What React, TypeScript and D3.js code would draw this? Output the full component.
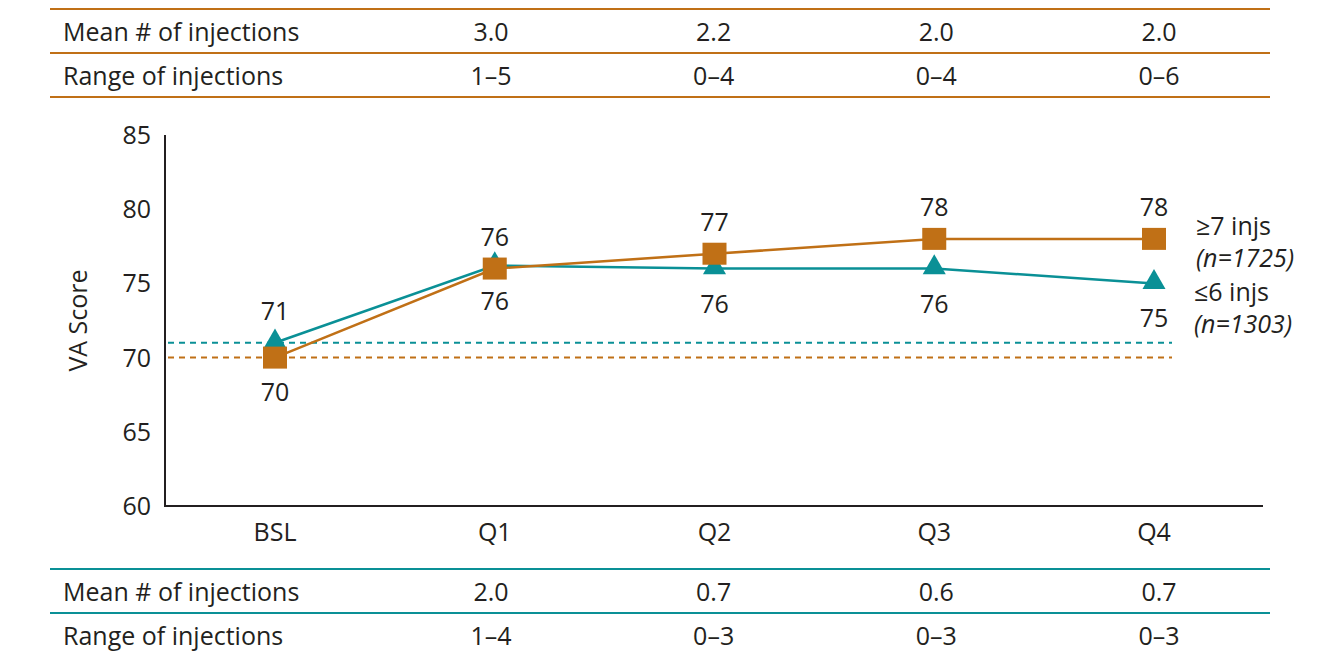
import React from 'react';
import * as d3 from 'd3';

const categories = ['BSL', 'Q1', 'Q2', 'Q3', 'Q4'];
const highValues = [70, 76, 77, 78, 78]; // >=7 injs
const lowValues = [71, 76.2, 76, 76, 75]; // <=6 injs
const highLabels = ['70', '76', '77', '78', '78'];
const lowLabels = ['71', '76', '76', '76', '75'];
const yTicks = [60, 65, 70, 75, 80, 85];

const tableCols = ['Q1', 'Q2', 'Q3', 'Q4'];
const topMean = ['3.0', '2.2', '2.0', '2.0'];
const topRange = ['1–5', '0–4', '0–4', '0–6'];
const bottomMean = ['2.0', '0.7', '0.6', '0.7'];
const bottomRange = ['1–4', '0–3', '0–3', '0–3'];

const ORANGE = '#C07016';
const TEAL = '#0A9096';
const INK = '#231F20';
const FONT = '"Open Sans", "Noto Sans", sans-serif';
const FS = 25;

export default function App() {
  const width = 1344;
  const height = 651;
  const axisLeft = 165;
  const axisRight = 1263;

  const x = d3.scalePoint<string>().domain(categories).range([275, 1154]);
  const y = d3.scaleLinear().domain([60, 85]).range([506, 135]);
  const col = d3.scalePoint<string>().domain(tableCols).range([491, 1159]);

  const line = d3.line<number>()
    .x((_, i) => x(categories[i]) as number)
    .y(d => y(d));

  const triangle = d3.symbol().type(d3.symbolTriangle).size(230)();

  const tableRows = (
    top: number,
    color: string,
    rows: { label: string; vals: string[] }[],
    rowH: number,
  ) => (
    <g>
      {[0, 1, 2].map(i => (
        <line key={i} x1={50} x2={1270} y1={top + i * rowH} y2={top + i * rowH}
          stroke={color} strokeWidth={2} />
      ))}
      {rows.map((r, ri) => (
        <g key={ri}>
          <text x={63} y={top + ri * rowH + 32} fontSize={FS} fill={INK}>{r.label}</text>
          {r.vals.map((v, vi) => (
            <text key={vi} x={col(tableCols[vi]) as number} y={top + ri * rowH + 32}
              fontSize={FS} fill={INK} textAnchor="middle">{v}</text>
          ))}
        </g>
      ))}
    </g>
  );

  return (
    <svg width={width} height={height} style={{ position: 'absolute', left: 0, top: 0, background: '#fff' }}
      fontFamily={FONT}>
      {tableRows(9, ORANGE, [
        { label: 'Mean # of injections', vals: topMean },
        { label: 'Range of injections', vals: topRange },
      ], 44)}
      {tableRows(569, TEAL, [
        { label: 'Mean # of injections', vals: bottomMean },
        { label: 'Range of injections', vals: bottomRange },
      ], 44)}

      {/* axes */}
      <line x1={axisLeft} x2={axisLeft} y1={y(85)} y2={y(60) + 1} stroke={INK} strokeWidth={2} />
      <line x1={axisLeft - 1} x2={axisRight} y1={y(60)} y2={y(60)} stroke={INK} strokeWidth={2} />
      {yTicks.map(t => (
        <text key={t} x={151} y={y(t) + 9} textAnchor="end" fontSize={FS} fill={INK}>{t}</text>
      ))}
      {categories.map(c => (
        <text key={c} x={x(c) as number} y={541} textAnchor="middle" fontSize={FS} fill={INK}
          fontWeight={500}>{c}</text>
      ))}
      <text transform={`translate(87,${(y(85) + y(60)) / 2}) rotate(-90)`} textAnchor="middle"
        fontSize={FS} fill={INK}>VA Score</text>

      {/* baseline reference lines */}
      <line x1={168} x2={1172} y1={y(lowValues[0])} y2={y(lowValues[0])} stroke={TEAL}
        strokeWidth={2} strokeDasharray="6,5" />
      <line x1={168} x2={1172} y1={y(highValues[0])} y2={y(highValues[0])} stroke={ORANGE}
        strokeWidth={2} strokeDasharray="6,5" />

      {/* teal series */}
      <path d={line(lowValues) || ''} fill="none" stroke={TEAL} strokeWidth={2.5} />
      {lowValues.map((v, i) => (
        <path key={i} d={triangle || ''} fill={TEAL}
          transform={`translate(${x(categories[i])},${y(v) - 1})`} />
      ))}

      {/* orange series */}
      <path d={line(highValues) || ''} fill="none" stroke={ORANGE} strokeWidth={2.5} />
      {highValues.map((v, i) => (
        <rect key={i} x={(x(categories[i]) as number) - 12} y={y(v) - 11} width={24} height={22}
          fill={ORANGE} />
      ))}

      {/* value labels */}
      {lowValues.map((v, i) => (
        <text key={i} x={x(categories[i]) as number} textAnchor="middle" fontSize={FS} fill={INK}
          y={i === 0 ? y(v) - 23 : y(v) + 44}>{lowLabels[i]}</text>
      ))}
      {highValues.map((v, i) => (
        <text key={i} x={x(categories[i]) as number} textAnchor="middle" fontSize={FS} fill={INK}
          y={i === 0 ? y(v) + 43 : y(v) - 23}>{highLabels[i]}</text>
      ))}

      {/* legend */}
      <text x={1196} y={235} fontSize={FS} fill={INK}>≥7 injs</text>
      <text x={1196} y={267} fontSize={FS} fill={INK} fontStyle="italic">(n=1725)</text>
      <text x={1194} y={301} fontSize={FS} fill={INK}>≤6 injs</text>
      <text x={1194} y={333} fontSize={FS} fill={INK} fontStyle="italic">(n=1303)</text>
    </svg>
  );
}
